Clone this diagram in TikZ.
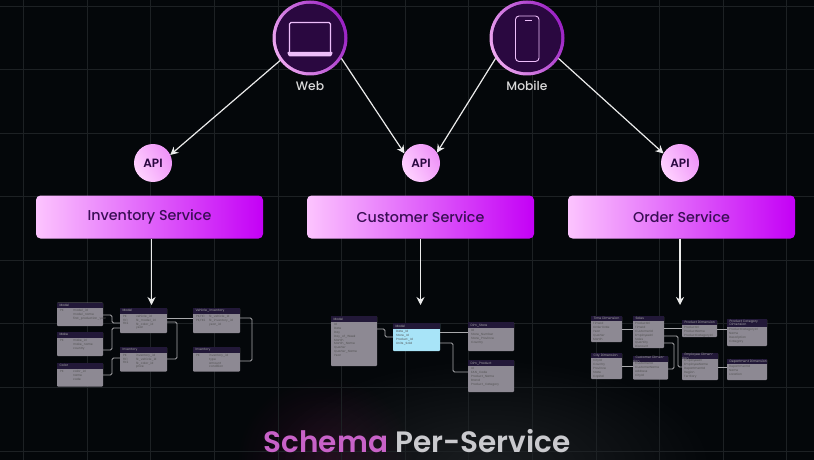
\documentclass[tikz,border=0pt]{standalone}
\usepackage{fontspec}
\setmainfont{Poppins}
\newfontfamily\popmed{Poppins Medium}
\newfontfamily\popsemi{Poppins SemiBold}
\usetikzlibrary{arrows.meta,fadings}
\definecolor{bgc}{HTML}{04070A}
\definecolor{gridc}{HTML}{1D2124}
\definecolor{darkp}{HTML}{2A0840}
\definecolor{iconc}{HTML}{EDBEFA}
\definecolor{bodyc}{HTML}{8D8993}
\definecolor{headc}{HTML}{221838}
\definecolor{cyanc}{HTML}{A8E4F8}
\definecolor{linkc}{HTML}{A9A9AC}
\definecolor{servr}{HTML}{C400F6}
\definecolor{servl}{HTML}{FCC4FE}
\definecolor{ringl}{HTML}{EEA8F0}
\definecolor{ringr}{HTML}{9A20C4}
\definecolor{apil}{HTML}{FFD2FF}
\definecolor{apir}{HTML}{EE92F8}
\definecolor{textp}{HTML}{3A0E55}
\tikzfading[name=softglow,inner color=transparent!0,outer color=transparent!100]
\tikzset{
  x=1pt,y=-1pt,
  gridline/.style={draw=gridc,line width=0.7pt},
  clientring/.style={circle,minimum size=75pt,inner sep=0pt,outer sep=0pt,left color=ringl,right color=ringr,shading angle=115},
  clientcore/.style={circle,fill=darkp,minimum size=68.5pt,inner sep=0pt},
  clientlabel/.style={text=black!15,font=\popmed\fontsize{12.3}{14}\selectfont,inner sep=0pt},
  icon/.style={draw=iconc,line width=1.1pt,rounded corners=1.5pt},
  apinode/.style={circle,minimum size=38pt,inner sep=0pt,outer sep=0pt,left color=apil,right color=apir,shading angle=120,text=darkp,font=\popsemi\fontsize{12}{14}\selectfont},
  service/.style={rectangle,rounded corners=4.5pt,minimum width=227pt,minimum height=43pt,inner sep=0pt,outer sep=0pt,left color=servl,right color=servr,text=textp,font=\popmed\fontsize{14.3}{16}\selectfont},
  flow/.style={draw=white!92!black,line width=1.2pt,-{Stealth[length=8pt,width=8pt]}},
  link/.style={draw=linkc,line width=0.8pt,rounded corners=1.5pt},
  tblbody/.style={rectangle,anchor=north west,inner sep=0pt,outer sep=0pt,rounded corners=0.8pt,fill=bodyc},
  tblhead/.style={rectangle,anchor=north west,inner sep=0pt,outer sep=0pt,fill=headc,text=black!35,align=left,font=\fontsize{3.2}{3.6}\selectfont},
  tbltext/.style={anchor=north west,inner sep=0pt,align=left,text=black!68,font=\fontsize{3}{3.8}\selectfont},
}
% x1 y1 x2 y2 name headerHeight title fieldsOffset, optional body colour
\newcommand{\dbtable}[9][bodyc]{%
  \pgfmathsetmacro{\tw}{#4-#2}\pgfmathsetmacro{\th}{#5-#3}%
  \node[tblbody,fill=#1,minimum width=\tw pt,minimum height=\th pt] (#6) at (#2,#3) {};%
  \node[tblhead,minimum width=\tw pt,minimum height=#7 pt,text width=\tw pt] (#6-h) at (#2,#3) {\hspace*{2.5pt}#8};%
  \node[tbltext] (#6-f) at ([xshift=#9 pt,yshift=-#7 pt-1.5pt]#6.north west) {\dbfields};%
}
\newcommand{\dbfields}{}
\newcommand{\keycol}[2]{\node[tbltext] (#1-k) at ([xshift=3pt,yshift=-7pt]#1.north west) {#2};}
\begin{document}
\begin{tikzpicture}
\useasboundingbox (0,0) rectangle (814,460);
\clip (0,0) rectangle (814,460);
\fill[bgc] (0,0) rectangle (814,460);
% bottom glows
\fill[white,opacity=0.09,path fading=softglow] (490,465) ellipse (230 and 110);
\fill[magenta!70!violet,opacity=0.13,path fading=softglow] (325,460) ellipse (90 and 85);
% grid
\foreach \k in {0,...,12}{\pgfmathsetmacro{\gx}{23.6+63.6*\k}\draw[gridline] (\gx,0) -- (\gx,460);}
\foreach \k in {0,...,7}{\pgfmathsetmacro{\gy}{6+63.55*\k}\draw[gridline] (0,\gy) -- (814,\gy);}
% clients
\node[clientring] (web) at (310,38) {};
\node[clientcore] (webcore) at (web) {};
\node[clientring] (mobile) at (527,38) {};
\node[clientcore] (mobilecore) at (mobile) {};
\node[clientlabel] (weblabel) at (310,86) {Web};
\node[clientlabel] (mobilelabel) at (527,86) {Mobile};
% laptop icon
\draw[icon] (289.5,52) -- (289.5,22.5) -- (330.5,22.5) -- (330.5,52);
\fill[iconc,rounded corners=1pt] (287,52) -- (333,52) -- (331,56.5) -- (289,56.5) -- cycle;
% phone icon
\draw[icon,rounded corners=3.5pt,line width=0.9pt] (515.5,16) rectangle (539,61.5);
\draw[iconc,line width=1pt] (524.5,20.5) -- (531.5,20.5);
% API
\node[apinode] (api1) at (153,163) {API};
\node[apinode] (api2) at (421,163) {API};
\node[apinode] (api3) at (680,163) {API};
% services
\node[service] (inv) at (149.5,217) {Inventory Service};
\node[service] (cus) at (420.5,217) {Customer Service};
\node[service] (ord) at (681.5,217) {Order Service};
% flows
\draw[flow] (web.217) -- (api1.25);
\draw[flow] (web.-33) -- (api2.150);
\draw[flow] (mobile.213) -- (api2.33);
\draw[flow] (mobile.-33) -- (api3.150);
\coordinate (s1) at (151.5,305);
\coordinate (s2) at (420.5,305);
\coordinate (s3) at (680,305);
\draw[flow] (inv.south -| s1) -- (s1);
\draw[flow] (cus.south -| s2) -- (s2);
\draw[flow] (ord.south -| s3) -- (s3);
% ---- Inventory schema
\renewcommand{\dbfields}{model\_id\\model\_name\\first\_production\_year}
\dbtable{57}{302.5}{103}{326}{a}{5.5}{Model}{16}
\keycol{a}{PK}
\renewcommand{\dbfields}{make\_id\\make\_name\\country}
\dbtable{57}{332}{103}{356}{b}{5.5}{Make}{16}
\keycol{b}{PK}
\renewcommand{\dbfields}{color\_id\\name\\code}
\dbtable{57}{363}{103}{386.5}{c}{5.5}{Color}{16}
\keycol{c}{PK}
\renewcommand{\dbfields}{vehicle\_id\\fk\_model\_id\\fk\_color\_id\\year}
\dbtable{120}{308}{167}{333}{d}{5.5}{Model}{16}
\keycol{d}{PK\\FK1\\FK2}
\renewcommand{\dbfields}{inventory\_id\\fk\_vehicle\_id\\fk\_color\_id\\price}
\dbtable{120}{347}{167}{371.5}{e}{5.5}{Inventory}{16}
\keycol{e}{PK\\FK1\\FK2}
\renewcommand{\dbfields}{fk\_vehicle\_id\\fk\_inventory\_id\\year\_id}
\dbtable{193}{308}{240}{333}{f}{5.5}{Vehicle\_Inventory}{16}
\keycol{f}{PK,FK1\\PK,FK2}
\renewcommand{\dbfields}{inventory\_id\\type\\amount\\condition}
\dbtable{193}{347}{240}{371.5}{g}{5.5}{Inventory}{16}
\keycol{g}{PK}
\draw[link] (a.east |- 0,315) -- (112,315) -- (112,323) -- (d.west |- 0,323);
\draw[link] (b.east |- 0,350) -- (112,350) -- (112,328) -- (d.west |- 0,328);
\draw[link] (c.east |- 0,375) -- (112,375) -- (112,358) -- (e.west |- 0,358);
\draw[link] (d.east |- 0,318) -- (f.west |- 0,318);
\draw[link] (d.east |- 0,322) -- (177,322) -- (177,359) -- (e.east |- 0,359);
\draw[link] (f.east |- 0,318) -- (252,318) -- (252,361) -- (g.east |- 0,361);
% ---- Customer schema
\renewcommand{\dbfields}{Id\\Date\\Day\\Day\_of\_Week\\Month\\Month\_Name\\Quarter\\Quarter\_Name\\Year}
\dbtable{331}{316}{377}{366}{h}{6}{Model}{3}
\renewcommand{\dbfields}{Date\_Id\\Store\_Id\\Product\_Id\\Units\_Sold}
\dbtable[cyanc]{393}{323}{440}{351}{i}{6}{Model}{3}
\renewcommand{\dbfields}{Id\\Store\_Number\\Store\_Province\\Country}
\dbtable{468}{322}{514}{351}{j}{6}{Dim\_Store}{3}
\renewcommand{\dbfields}{Id\\EAN\_Code\\Product\_Name\\Brand\\Product\_Category}
\dbtable{468}{360}{514}{392}{k}{6}{Dim\_Product}{3}
\draw[link] (h.east |- 0,329) -- (385,329) -- (385,337) -- (i.west |- 0,337);
\draw[link] (i.east |- 0,332) -- (j.west |- 0,332);
\draw[link] (i.east |- 0,343) -- (453,343) -- (453,372) -- (k.west |- 0,372);
% ---- Order schema
\renewcommand{\dbfields}{TimeId\\Order Date\\Year\\Quarter\\Month}
\dbtable{591}{316}{622}{342}{l}{5}{Time Dimension}{2}
\renewcommand{\dbfields}{ProductId\\TimeId\\CustomerId\\EmployeeId\\Sales\\Quantity\\Discount}
\dbtable{633}{316}{664}{348}{m}{5}{Sales}{2}
\renewcommand{\dbfields}{ProductId\\ProductName\\ProductCategoryId}
\dbtable{682}{320}{717}{337}{n}{5}{Product Dimension}{2}
\renewcommand{\dbfields}{ProductCategoryId\\Name\\Description\\Category}
\dbtable{727}{319}{767}{346}{o}{8}{Product Category\\\hspace*{2.5pt}Dimension}{2}
\renewcommand{\dbfields}{CityId\\Country\\Province\\State\\Capital}
\dbtable{591}{353}{622}{379}{p}{5}{City Dimension}{2}
\renewcommand{\dbfields}{CustomerId\\CustomerName\\Address\\CityId}
\dbtable{633}{356}{668}{379.5}{q}{5}{Customer Dimension}{2}
\renewcommand{\dbfields}{EmployeeId\\EmployeeName\\DepartmentId\\Region\\Territory}
\dbtable{682}{353}{718}{380}{r}{5}{Employee Dimension}{2}
\renewcommand{\dbfields}{DepartmentId\\Name\\Location}
\dbtable{727}{359}{767}{380}{s}{5}{Department Dimension}{2}
\draw[link] (l.east |- 0,329) -- (m.west |- 0,329);
\draw[link] (p.east |- 0,366) -- (q.west |- 0,366);
\draw[link] (m.east |- 0,328) -- (n.west |- 0,328);
\draw[link] (n.east |- 0,329) -- (o.west |- 0,329);
\draw[link] (r.east |- 0,367) -- (s.west |- 0,367);
\draw[link] (m.east |- 0,336) -- (678,336) -- (678,367) -- (r.west |- 0,367);
\draw[link] (m.east |- 0,343) -- (674,343) -- (674,369) -- (q.east |- 0,369);
% title
\node[inner sep=0pt,font=\popsemi\fontsize{29.5}{34}\selectfont] (title) at (417,441) {\textcolor[HTML]{C862C8}{Schema} \textcolor[HTML]{CACACE}{Per-Service}};
\end{tikzpicture}
\end{document}
